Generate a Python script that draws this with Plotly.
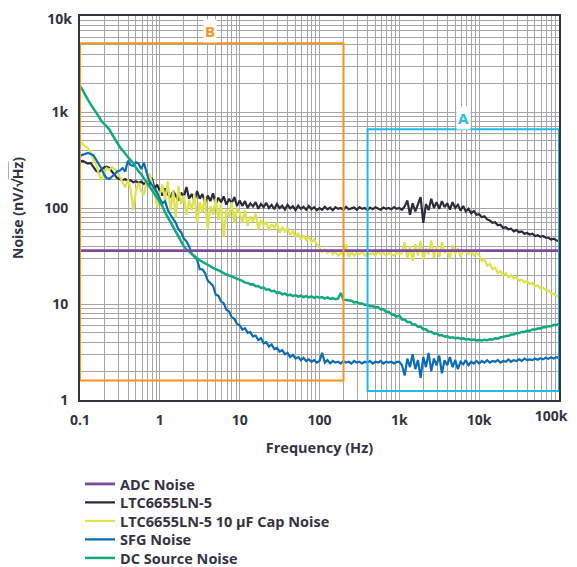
import numpy as np
import plotly.graph_objects as go

# Frequency sampling grid: 30 points per decade, 0.1 Hz .. 100 kHz (181 points)
FREQ = (0.1 * 10 ** (np.arange(181) / 30.0)).tolist()

ADC_FREQ = [0.1, 100000]
ADC_NOISE = [36, 36]

LTC_NOISE = [
    305, 310, 300, 290, 295, 270, 245, 235, 250, 265,
    270, 262, 240, 220, 205, 200, 195, 200, 190, 195,
    185, 190, 182, 188, 178, 185, 172, 205, 160, 175,
    150, 135, 160, 140, 128, 150, 135, 120, 145, 130,
    165, 125, 140, 118, 150, 125, 140, 112, 135, 118,
    142, 110, 128, 115, 132, 108, 125, 112, 130, 105,
    120, 105, 118, 100, 112, 104, 115, 98, 110, 102,
    113, 100, 108, 97, 110, 100, 106, 96, 108, 99,
    104, 95, 106, 98, 103, 96, 105, 97, 102, 95,
    100, 96, 103, 97, 101, 95, 102, 98, 100, 96,
    103, 97, 99, 101, 96, 102, 98, 100, 95, 101,
    97, 102, 99, 96, 101, 98, 100, 97, 102, 98,
    100, 96, 104, 120, 85, 112, 92, 108, 130, 70,
    110, 95, 125, 100, 115, 98, 118, 102, 112, 96,
    115, 100, 108, 94, 105, 92, 98, 88, 93, 85,
    86, 80, 82, 76, 74, 70, 71, 66, 67, 62,
    63, 60, 61, 57, 59, 56, 57, 54, 55, 53,
    54, 51, 52, 50, 51, 49, 49, 47, 48, 46,
    45,
]

CAP_NOISE = [
    490, 460, 440, 420, 380, 320, 290, 230, 195, 225,
    260, 250, 265, 255, 240, 210, 185, 165, 195, 160,
    95, 150, 183, 150, 137, 190, 230, 180, 150, 102,
    140, 175, 120, 190, 95, 150, 80, 170, 110, 135,
    85, 120, 95, 140, 70, 115, 90, 130, 60, 105,
    85, 125, 75, 110, 50, 95, 80, 115, 70, 100,
    90, 70, 95, 65, 82, 72, 88, 60, 75, 66,
    72, 58, 68, 62, 70, 55, 64, 57, 62, 52,
    58, 50, 55, 47, 52, 46, 50, 44, 47, 42,
    38, 35, 37, 34, 36, 33, 35, 32, 34, 33,
    42, 31, 35, 32, 34, 33, 35, 32, 34, 33,
    34, 32, 35, 33, 34, 32, 34, 33, 32, 34,
    33, 34, 44, 30, 40, 28, 42, 32, 45, 29,
    38, 33, 46, 30, 40, 31, 44, 34, 37, 30,
    41, 33, 38, 31, 36, 35, 33, 36, 32, 34,
    32, 28, 29, 25, 26, 23, 24, 21, 22, 20,
    21, 19, 20, 18.5, 19, 17.5, 18, 16.8, 17.2, 16.2,
    16.5, 15.3, 15.6, 14.6, 14.8, 14, 13.8, 13, 12.8, 12.2,
    11.8,
]

SFG_NOISE = [
    350, 360, 370, 375, 365, 355, 320, 290, 260, 225,
    205, 200, 215, 225, 240, 245, 260, 240, 310, 280,
    275, 300, 290, 255, 295, 240, 190, 175, 160, 145,
    125, 112, 118, 95, 85, 76, 70, 60, 56, 48,
    45, 40, 33, 31, 29, 23, 23, 21, 17.5, 16.5,
    15.5, 12.5, 12.2, 10.6, 10.2, 8.7, 8.4, 7.3, 7.0, 6.2,
    6.0, 5.4, 5.6, 5.0, 5.1, 4.6, 4.7, 4.2, 4.4, 3.9,
    4.0, 3.6, 3.8, 3.4, 3.5, 3.2, 3.3, 3.0, 3.1, 2.8,
    2.95, 2.7, 2.8, 2.6, 2.75, 2.55, 2.65, 2.5, 2.6, 2.45,
    2.55, 3.1, 2.45, 2.6, 2.4, 2.55, 2.45, 2.5, 2.4, 2.55,
    2.45, 2.5, 2.4, 2.55, 2.45, 2.5, 2.4, 2.5, 2.45, 2.55,
    2.4, 2.5, 2.45, 2.55, 2.4, 2.5, 2.45, 2.5, 2.4, 2.5,
    2.5, 2.3, 1.8, 2.7, 2.2, 3.0, 2.1, 2.6, 1.7, 2.8,
    2.2, 3.1, 2.0, 2.7, 2.3, 2.9, 1.9, 2.6, 2.3, 2.8,
    2.2, 2.6, 2.1, 2.5, 2.35, 2.6, 2.3, 2.5, 2.4, 2.55,
    2.4, 2.55, 2.45, 2.6, 2.45, 2.55, 2.5, 2.6, 2.45, 2.55,
    2.5, 2.65, 2.5, 2.6, 2.55, 2.65, 2.55, 2.7, 2.6, 2.65,
    2.6, 2.7, 2.62, 2.72, 2.65, 2.75, 2.68, 2.78, 2.7, 2.8,
    2.75,
]

DC_NOISE = [
    1850, 1700, 1500, 1330, 1200, 1090, 1000, 900, 810, 760,
    700, 660, 590, 530, 480, 430, 400, 365, 340, 315,
    295, 265, 240, 225, 205, 190, 170, 158, 145, 128,
    115, 104, 90, 80, 70, 63, 55, 49, 44, 40,
    37, 35, 33, 31, 30, 28.5, 27.5, 26.5, 25.5, 24.5,
    23.8, 23, 22.5, 21.5, 21, 20.3, 19.8, 19.2, 18.8, 18.2,
    17.8, 17.4, 16.7, 16.6, 16.0, 16.1, 15.3, 15.4, 14.7, 14.8,
    14.1, 14.2, 13.6, 13.7, 13.0, 13.2, 12.6, 12.9, 12.3, 12.5,
    12.1, 12.4, 11.9, 12.2, 11.8, 12.1, 11.7, 12.0, 11.6, 11.9,
    11.6, 11.8, 11.4, 11.7, 11.3, 11.5, 11.2, 11.4, 13.0, 11.1,
    11.0, 10.8, 10.8, 10.4, 10.5, 10.1, 10.1, 9.8, 9.8, 9.5,
    9.5, 9.2, 9.3, 8.8, 8.8, 8.3, 8.3, 7.8, 7.7, 7.4,
    7.6, 6.9, 6.9, 6.5, 6.5, 6.1, 6.1, 5.8, 5.8, 5.45,
    5.45, 5.15, 5.15, 4.9, 4.95, 4.7, 4.75, 4.58, 4.6, 4.45,
    4.5, 4.4, 4.45, 4.35, 4.4, 4.27, 4.32, 4.22, 4.27, 4.18,
    4.22, 4.16, 4.24, 4.2, 4.3, 4.26, 4.4, 4.36, 4.5, 4.52,
    4.64, 4.66, 4.8, 4.82, 4.96, 4.98, 5.12, 5.12, 5.26, 5.26,
    5.42, 5.42, 5.56, 5.56, 5.72, 5.72, 5.88, 5.88, 6.05, 6.05,
    6.2,
]

SERIES = [
    # (name, x, y, color, width, legend id, legend row, axes)
    ("LTC6655LN-5", FREQ, LTC_NOISE, "#2b2d3b", 2.2, "legend2", 1, ("x", "y")),
    ("LTC6655LN-5 10 µF Cap Noise", FREQ, CAP_NOISE, "#dde34c", 2.2, "legend3", 2, ("x", "y")),
    ("SFG Noise", FREQ, SFG_NOISE, "#0a6db6", 2.2, "legend4", 3, ("x", "y")),
    ("DC Source Noise", FREQ, DC_NOISE, "#11aa7b", 2.5, "legend5", 4, ("x", "y")),
    ("ADC Noise", ADC_FREQ, ADC_NOISE, "#7e4a9e", 2.8, "legend", 0, ("x2", "y2")),
]

# Tick labels; the two corner labels sit on overlay axes so they can be nudged inside the page.
X_TICKS = [0.1, 1, 10, 100, 1000, 10000]
X_LABELS = ["0.1", "1", "10", "100", "1k", "10k"]
X_EDGE_TICK, X_EDGE_LABEL = [100000], ["100k"]
Y_TICKS = [1, 10, 100, 1000]
Y_LABELS = ["1", "10", "100", "1k"]
Y_EDGE_TICK, Y_EDGE_LABEL = [10000], ["10k"]


def minor_vals(lo_exp, hi_exp):
    out = []
    for e in range(lo_exp, hi_exp):
        for m in range(2, 10):
            out.append(m * 10.0 ** e)
    return out


FONT = "'Open Sans', Roboto, sans-serif"
DARK = "#33343f"
GRID = "#a6a6a8"
PLOT_H = 384.0  # plot area height in px
TICK_FONT = dict(family=FONT, size=14, color=DARK, weight="bold")

fig = go.Figure()
for name, xs, ys, color, w, lg, row, (xa, ya) in SERIES:
    fig.add_trace(go.Scatter(
        x=xs, y=ys, mode="lines", name=name,
        line=dict(color=color, width=w),
        legend=lg, xaxis=xa, yaxis=ya,
    ))

# Highlight boxes (data coordinates)
fig.add_shape(type="rect", xref="x", yref="y", x0=0.1, x1=200, y0=1.6, y1=5200,
              line=dict(color="#f7941d", width=2), layer="above")
fig.add_shape(type="rect", xref="x", yref="y", x0=400, x1=100000, y0=1.24, y1=660,
              line=dict(color="#1ebbea", width=2), layer="above")

fig.add_annotation(x=np.log10(4.3), y=np.log10(7000), xref="x", yref="y", text="<b>B</b>",
                   showarrow=False, bgcolor="white", font=dict(color="#f7941d", size=15, family=FONT),
                   borderpad=1)
fig.add_annotation(x=np.log10(6300), y=np.log10(870), xref="x", yref="y", text="<b>A</b>",
                   showarrow=False, bgcolor="white", font=dict(color="#1ebbea", size=15, family=FONT),
                   borderpad=1)

legend_font = dict(family=FONT, size=14.5, color=DARK, weight="bold")
legends = {}
for s in SERIES:
    lg, row = s[5], s[6]
    center_px = 84 + 18.5 * row          # px below the plot area's bottom edge
    legends[lg] = dict(
        x=0.0, xanchor="left", y=-center_px / PLOT_H, yanchor="middle",
        font=legend_font, itemwidth=30, bgcolor="rgba(0,0,0,0)",
        borderwidth=0,
    )

# The page places the figure 8 px in from the window's top-left corner.
fig.update_layout(
    width=577, height=567,
    margin=dict(l=72, r=26, t=8, b=175, autoexpand=False),
    paper_bgcolor="white", plot_bgcolor="white",
    font=dict(family=FONT, color=DARK, size=13),
    showlegend=True,
    **legends,
)

fig.update_layout(
    xaxis=dict(
        type="log", range=[-1, 5], automargin=False, ticklabeloverflow="allow",
        tickvals=X_TICKS, ticktext=X_LABELS, tickfont=TICK_FONT,
        showgrid=True, gridcolor=GRID, gridwidth=1,
        minor=dict(tickvals=minor_vals(-1, 5), showgrid=True, gridcolor=GRID, gridwidth=1, ticks=""),
        showline=True, linecolor=DARK, linewidth=2, mirror=True,
        ticks="", ticklabelstandoff=6, zeroline=False,
        title=dict(text="Frequency (Hz)", font=dict(family=FONT, size=14.5, color=DARK, weight="bold"),
                   standoff=15),
    ),
    yaxis=dict(
        type="log", range=[0, 4], automargin=False, ticklabeloverflow="allow",
        tickvals=Y_TICKS, ticktext=Y_LABELS, tickfont=TICK_FONT,
        showgrid=True, gridcolor=GRID, gridwidth=1,
        minor=dict(tickvals=minor_vals(0, 4), showgrid=True, gridcolor=GRID, gridwidth=1, ticks=""),
        showline=True, linecolor=DARK, linewidth=2, mirror=True,
        ticks="", ticklabelstandoff=7, zeroline=False,
        title=dict(text="Noise (nV/√<span style='text-decoration:overline'>Hz</span>)",
                   font=dict(family=FONT, size=14, color=DARK, weight="bold"), standoff=19),
    ),
    xaxis2=dict(
        type="log", range=[-1, 5], overlaying="x", anchor="y2", side="bottom",
        automargin=False, ticklabeloverflow="allow",
        tickvals=X_EDGE_TICK, ticktext=X_EDGE_LABEL, tickfont=TICK_FONT,
        showgrid=False, showline=False, zeroline=False, ticks="",
        ticklabelstandoff=6, ticklabelshift=-8,
    ),
    yaxis2=dict(
        type="log", range=[0, 4], overlaying="y", anchor="x2", side="left",
        automargin=False, ticklabeloverflow="allow",
        tickvals=Y_EDGE_TICK, ticktext=Y_EDGE_LABEL, tickfont=TICK_FONT,
        showgrid=False, showline=False, zeroline=False, ticks="",
        ticklabelstandoff=7, ticklabelshift=3,
    ),
)

fig.write_html("out.html")
